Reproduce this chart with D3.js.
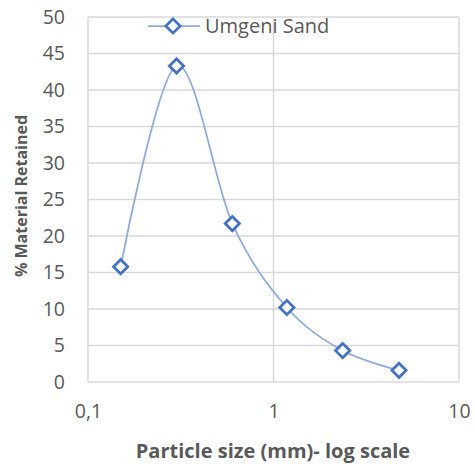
<!DOCTYPE html>
<html>
<head>
<meta charset="utf-8">
<script src="https://cdn.jsdelivr.net/npm/d3@7"></script>
<style>
  html, body { margin: 0; padding: 0; background: #fff; }
  svg { display: block; }
  text { font-family: "Open Sans", "Liberation Sans", sans-serif; fill: #595959; }
</style>
</head>
<body>
<div id="chart"></div>
<script>
// Sieve sizes (mm) and percentage of material retained on each sieve
const sieveSizes = [0.15, 0.3, 0.6, 1.18, 2.36, 4.75];
const retained = [15.8, 43.3, 21.7, 10.2, 4.3, 1.6];
const seriesName = "Umgeni Sand";
const yTicks = [0, 5, 10, 15, 20, 25, 30, 35, 40, 45, 50];
const xTicks = [0.1, 1, 10];
const xTickLabels = ["0,1", "1", "10"];

const W = 475, H = 471;
const plot = { left: 88, right: 459, top: 17, bottom: 382 };

const svg = d3.select("#chart").append("svg")
  .attr("width", W).attr("height", H);

const x = d3.scaleLog().domain([0.1, 10]).range([plot.left, plot.right]);
const y = d3.scaleLinear().domain([0, 50]).range([plot.bottom, plot.top]);

const gridColor = "#d9d9d9";

// horizontal gridlines
svg.append("g").selectAll("line").data(yTicks).join("line")
  .attr("x1", plot.left).attr("x2", plot.right)
  .attr("y1", d => y(d)).attr("y2", d => y(d))
  .attr("stroke", gridColor).attr("stroke-width", 1.5);

// vertical gridlines at each decade
svg.append("g").selectAll("line").data(xTicks).join("line")
  .attr("x1", d => x(d)).attr("x2", d => x(d))
  .attr("y1", plot.top).attr("y2", plot.bottom)
  .attr("stroke", gridColor).attr("stroke-width", 1.5);

// y axis labels
const yAxis = d3.axisLeft(y).tickValues(yTicks).tickSize(0).tickPadding(0);
const gy = svg.append("g").attr("transform", `translate(${plot.left - 23},0)`).call(yAxis);
gy.select(".domain").remove();
gy.selectAll("text").style("font-size", "19.5px").attr("fill", "#595959")
  .style("font-family", "'Open Sans', sans-serif");

// x axis labels
const xAxis = d3.axisBottom(x).tickValues(xTicks).tickSize(0).tickPadding(0)
  .tickFormat((d, i) => xTickLabels[i]);
const gx = svg.append("g").attr("transform", `translate(0,${plot.bottom + 22})`).call(xAxis);
gx.select(".domain").remove();
gx.selectAll("text").style("font-size", "19.5px").attr("fill", "#595959")
  .style("font-family", "'Open Sans', sans-serif");

// axis titles
svg.append("text")
  .attr("x", 273).attr("y", 458)
  .attr("text-anchor", "middle")
  .style("font-size", "20px").style("font-weight", "bold")
  .text("Particle size (mm)- log scale");

svg.append("text")
  .attr("transform", "translate(27,196) rotate(-90)")
  .attr("text-anchor", "middle")
  .style("font-size", "16px").style("font-weight", "bold")
  .text("% Material Retained");

// smoothed series line
const data = sieveSizes.map((s, i) => ({ s, v: retained[i] }));
const lineColor = "#8faadc";
const markerColor = "#4472c4";
const line = d3.line().x(d => x(d.s)).y(d => y(d.v)).curve(d3.curveCatmullRom.alpha(0));
svg.append("path").datum(data)
  .attr("d", line)
  .attr("fill", "none").attr("stroke", lineColor).attr("stroke-width", 1.75);

// diamond markers
const diamond = d3.symbol().type(d3.symbolDiamond2).size(130);
svg.append("g").selectAll("path").data(data).join("path")
  .attr("transform", d => `translate(${x(d.s)},${y(d.v)})`)
  .attr("d", diamond)
  .attr("fill", "#fff").attr("stroke", markerColor).attr("stroke-width", 2.75);

// legend
const lg = svg.append("g").attr("transform", "translate(148,26)");
lg.append("line").attr("x1", 0).attr("x2", 52).attr("y1", 0).attr("y2", 0)
  .attr("stroke", lineColor).attr("stroke-width", 1.75);
lg.append("path").attr("transform", "translate(25,0)").attr("d", diamond)
  .attr("fill", "#fff").attr("stroke", markerColor).attr("stroke-width", 2.75);
lg.append("text").attr("x", 57).attr("y", 7)
  .style("font-size", "20px").text(seriesName);
</script>
</body>
</html>
